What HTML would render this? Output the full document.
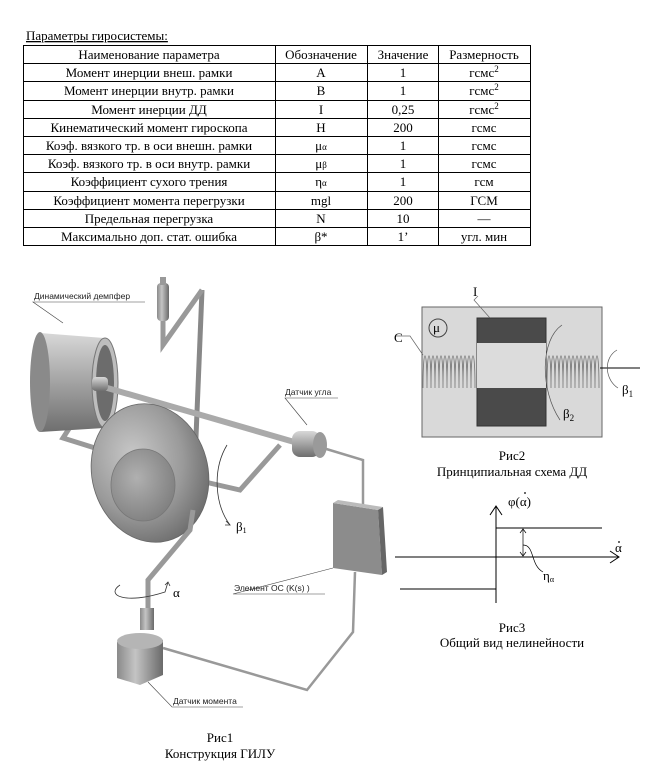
<!DOCTYPE html>
<html><head><meta charset="utf-8"><style>
html,body{margin:0;padding:0;background:#fff;width:649px;height:776px;overflow:hidden}
svg{display:block}
.t{font-family:"Liberation Serif",serif;font-size:13px;fill:#000}
.s{font-family:"Liberation Sans",sans-serif;font-size:8.5px;fill:#222}
</style></head><body>
<svg width="649" height="776" viewBox="0 0 649 776" xmlns="http://www.w3.org/2000/svg">
<defs>
<linearGradient id="cyl" x1="0" y1="0" x2="0" y2="1"><stop offset="0" stop-color="#d8d8d8"/><stop offset=".45" stop-color="#a8a8a8"/><stop offset="1" stop-color="#6e6e6e"/></linearGradient>
<radialGradient id="disc" cx=".4" cy=".35" r=".7"><stop offset="0" stop-color="#c8c8c8"/><stop offset=".6" stop-color="#9a9a9a"/><stop offset="1" stop-color="#6a6a6a"/></radialGradient>
<radialGradient id="disc2" cx=".4" cy=".4" r=".7"><stop offset="0" stop-color="#b0b0b0"/><stop offset="1" stop-color="#7c7c7c"/></radialGradient>
<linearGradient id="vcyl" x1="0" y1="0" x2="1" y2="0"><stop offset="0" stop-color="#8a8a8a"/><stop offset=".4" stop-color="#c4c4c4"/><stop offset="1" stop-color="#6a6a6a"/></linearGradient>
</defs>
<!-- Table -->
<text class="t" x="26" y="40" text-decoration="underline">Параметры гиросистемы:</text>
<g stroke="#000" stroke-width="1" fill="none">
<rect x="23.5" y="45.5" width="507" height="200"/>
<line x1="275.5" y1="45" x2="275.5" y2="246"/>
<line x1="367.5" y1="45" x2="367.5" y2="246"/>
<line x1="438.5" y1="45" x2="438.5" y2="246"/>
<line x1="23" y1="63.5" x2="531" y2="63.5"/>
<line x1="23" y1="81.5" x2="531" y2="81.5"/>
<line x1="23" y1="100.5" x2="531" y2="100.5"/>
<line x1="23" y1="118.5" x2="531" y2="118.5"/>
<line x1="23" y1="136.5" x2="531" y2="136.5"/>
<line x1="23" y1="154.5" x2="531" y2="154.5"/>
<line x1="23" y1="172.5" x2="531" y2="172.5"/>
<line x1="23" y1="191.5" x2="531" y2="191.5"/>
<line x1="23" y1="209.5" x2="531" y2="209.5"/>
<line x1="23" y1="227.5" x2="531" y2="227.5"/>
</g>
<g class="t" text-anchor="middle">
<text x="149" y="59">Наименование параметра</text><text x="321" y="59">Обозначение</text><text x="403" y="59">Значение</text><text x="484" y="59">Размерность</text>
<text x="149" y="77">Момент инерции внеш. рамки</text><text x="321" y="77">A</text><text x="403" y="77">1</text><text x="484" y="77">гсмс<tspan dy="-5" font-size="9">2</tspan></text>
<text x="149" y="95">Момент инерции внутр. рамки</text><text x="321" y="95">B</text><text x="403" y="95">1</text><text x="484" y="95">гсмс<tspan dy="-5" font-size="9">2</tspan></text>
<text x="149" y="114">Момент инерции ДД</text><text x="321" y="114">I</text><text x="403" y="114">0,25</text><text x="484" y="114">гсмс<tspan dy="-5" font-size="9">2</tspan></text>
<text x="149" y="132">Кинематический момент гироскопа</text><text x="321" y="132">H</text><text x="403" y="132">200</text><text x="484" y="132">гсмс</text>
<text x="149" y="150">Коэф. вязкого тр. в оси внешн. рамки</text><text x="321" y="150">μ<tspan font-size="9">α</tspan></text><text x="403" y="150">1</text><text x="484" y="150">гсмс</text>
<text x="149" y="168">Коэф. вязкого тр. в оси внутр. рамки</text><text x="321" y="168">μ<tspan font-size="9">β</tspan></text><text x="403" y="168">1</text><text x="484" y="168">гсмс</text>
<text x="149" y="186">Коэффициент сухого трения</text><text x="321" y="186">η<tspan font-size="9">α</tspan></text><text x="403" y="186">1</text><text x="484" y="186">гсм</text>
<text x="149" y="205">Коэффициент момента перегрузки</text><text x="321" y="205">mgl</text><text x="403" y="205">200</text><text x="484" y="205">ГСМ</text>
<text x="149" y="223">Предельная перегрузка</text><text x="321" y="223">N</text><text x="403" y="223">10</text><text x="484" y="223">—</text>
<text x="149" y="241">Максимально доп. стат. ошибка</text><text x="321" y="241">β*</text><text x="403" y="241">1’</text><text x="484" y="241">угл. мин</text>
</g>

<!-- Рис1 -->
<g>
<polyline points="323,448 363,460 363,505" fill="none" stroke="#999" stroke-width="2.5"/>
<polyline points="355,572 353,632 307,690 163,648" fill="none" stroke="#999" stroke-width="2.5"/>
<path d="M202,290 L193,510" stroke="#888" stroke-width="5" fill="none"/>
<path d="M202,290 L163,345 L163,320" stroke="#999" stroke-width="5" fill="none"/>
<rect x="157" y="283" width="12" height="38" rx="4" fill="url(#vcyl)"/>
<rect x="160" y="277" width="6" height="8" fill="#999"/>
<polyline points="97,385 63,438 95,448" fill="none" stroke="#999" stroke-width="5"/>
<polyline points="205,482 240,490 280,445" fill="none" stroke="#999" stroke-width="5"/>
<path d="M40,333 L104,338 L104,428 L40,432 Z" fill="url(#cyl)"/>
<ellipse cx="40" cy="382" rx="10" ry="50" fill="#8a8a8a"/>
<ellipse cx="105" cy="383" rx="13" ry="45" fill="#bdbdbd" stroke="#777"/>
<ellipse cx="105" cy="383" rx="9" ry="38" fill="#6c6c6c"/>
<path d="M97,385 L322,450" stroke="#aaa" stroke-width="6" fill="none"/>
<rect x="92" y="377" width="16" height="14" rx="4" fill="url(#cyl)"/>
<ellipse cx="150" cy="473" rx="58" ry="70" transform="rotate(-15 150 473)" fill="url(#disc)" stroke="#666" stroke-width=".8"/>
<ellipse cx="143" cy="485" rx="32" ry="36" fill="url(#disc2)" stroke="#777" stroke-width=".8"/>
<polyline points="193,510 190,530 148,580 148,610" fill="none" stroke="#999" stroke-width="5"/>
<rect x="140" y="608" width="14" height="22" fill="url(#vcyl)"/>
<path d="M117,642 L163,640 L163,675 L140,685 L117,678 Z" fill="url(#vcyl)"/>
<ellipse cx="140" cy="641" rx="23" ry="8" fill="#b5b5b5"/>
<rect x="292" y="431" width="28" height="26" rx="8" fill="url(#cyl)"/>
<ellipse cx="320" cy="445" rx="7" ry="13" fill="#9a9a9a"/>
<path d="M333,503 L378,510 L382,575 L333,568 Z" fill="#8c8c8c"/>
<path d="M333,503 L338,500 L383,507 L378,510 Z" fill="#bbb"/>
<path d="M378,510 L383,507 L387,572 L382,575 Z" fill="#666"/>
<path d="M227,445 C212,470 215,505 230,525" fill="none" stroke="#333" stroke-width=".8"/>
<path d="M226,521 L230,525 L225,525" fill="none" stroke="#333" stroke-width=".8"/>
<text x="236" y="531" class="t" font-size="12">β<tspan font-size="8" dy="2">1</tspan></text>
<path d="M120,585 C105,595 125,605 165,592 L168,582" fill="none" stroke="#333" stroke-width=".8"/>
<path d="M165,585 L168,582 L170,586" fill="none" stroke="#333" stroke-width=".8"/>
<text x="173" y="597" class="t" font-size="12">α</text>
<g stroke="#444" stroke-width=".6" fill="none">
<polyline points="145,302 33,302 63,323"/>
<polyline points="338,398 285,398 307,425"/>
<polyline points="325,594 233,594 333,568"/>
<polyline points="243,707 172,707 148,682"/>
</g>
<text class="s" x="34" y="299">Динамический демпфер</text>
<text class="s" x="285" y="395">Датчик угла</text>
<text class="s" x="234" y="591">Элемент ОС (K(s) )</text>
<text class="s" x="173" y="704">Датчик момента</text>
<text class="t" x="220" y="742" text-anchor="middle">Рис1</text>
<text class="t" x="220" y="758" text-anchor="middle">Конструкция ГИЛУ</text>
</g>

<!-- Рис2 -->
<g>
<rect x="422" y="307" width="180" height="130" fill="#d9d9d9" stroke="#666"/>
<rect x="477" y="318" width="69" height="108" fill="#4a4a4a" stroke="#333"/>
<rect x="477" y="343" width="69" height="45" fill="#dcdcdc"/>
<path d="M423,388 c0,-43 4,-43 4,0 c0,-43 4,-43 4,0 c0,-43 4,-43 4,0 c0,-43 4,-43 4,0 c0,-43 4,-43 4,0 c0,-43 4,-43 4,0 c0,-43 4,-43 4,0 c0,-43 4,-43 4,0 c0,-43 4,-43 4,0 c0,-43 4,-43 4,0 c0,-43 4,-43 4,0 c0,-43 4,-43 4,0 c0,-43 4,-43 4,0" fill="none" stroke="#777" stroke-width=".8"/>
<path d="M547,388 c0,-43 4,-43 4,0 c0,-43 4,-43 4,0 c0,-43 4,-43 4,0 c0,-43 4,-43 4,0 c0,-43 4,-43 4,0 c0,-43 4,-43 4,0 c0,-43 4,-43 4,0 c0,-43 4,-43 4,0 c0,-43 4,-43 4,0 c0,-43 4,-43 4,0 c0,-43 4,-43 4,0 c0,-43 4,-43 4,0 c0,-43 4,-43 4,0" fill="none" stroke="#777" stroke-width=".8"/>
<line x1="600" y1="368" x2="640" y2="368" stroke="#000"/>
<circle cx="438" cy="328" r="9" fill="none" stroke="#444"/>
<text x="433" y="332" class="t" font-size="12">μ</text>
<polyline points="396,336 410,336 423,355" fill="none" stroke="#666" stroke-width=".7"/>
<text x="394" y="342" class="t" font-size="15">C</text>
<polyline points="478,296 474,300 490,318" fill="none" stroke="#666" stroke-width=".7"/>
<text x="473" y="296" class="t" font-size="15">I</text>
<path d="M562,325 C540,340 540,390 560,420" fill="none" stroke="#555" stroke-width=".7"/>
<text x="563" y="418" class="t" font-size="14">β<tspan font-size="9" dy="3">2</tspan></text>
<path d="M617,350 C603,358 605,380 618,388" fill="none" stroke="#555" stroke-width=".7"/>
<text x="622" y="394" class="t" font-size="14">β<tspan font-size="9" dy="3">1</tspan></text>
<text class="t" x="512" y="460" text-anchor="middle">Рис2</text>
<text class="t" x="512" y="476" text-anchor="middle">Принципиальная схема ДД</text>
</g>

<!-- Рис3 -->
<g stroke="#000" fill="none" stroke-width="1">
<line x1="496" y1="506" x2="496" y2="603"/>
<polyline points="490,515 496,506 502,515"/>
<line x1="395" y1="557" x2="619" y2="557"/>
<polyline points="610,551 619,557 610,563"/>
<line x1="496" y1="528" x2="602" y2="528"/>
<line x1="400" y1="589" x2="496" y2="589"/>
<line x1="523" y1="529" x2="523" y2="556" stroke-width=".7"/>
<polyline points="520,533 523,529 526,533" stroke-width=".7"/>
<polyline points="520,552 523,556 526,552" stroke-width=".7"/>
<path d="M523,545 C535,545 530,565 543,572" stroke-width=".7"/>
</g>
<text class="t" x="508" y="506" font-size="14">φ(α)</text>
<circle cx="525" cy="493" r="0.9" fill="#000"/>
<text class="t" x="615" y="552" font-size="13">α</text>
<circle cx="619" cy="542" r="0.9" fill="#000"/>
<text class="t" x="543" y="580" font-size="11">η<tspan font-size="8" dy="2">α</tspan></text>
<text class="t" x="512" y="632" text-anchor="middle">Рис3</text>
<text class="t" x="512" y="647" text-anchor="middle">Общий вид нелинейности</text>
</svg>
</body></html>
